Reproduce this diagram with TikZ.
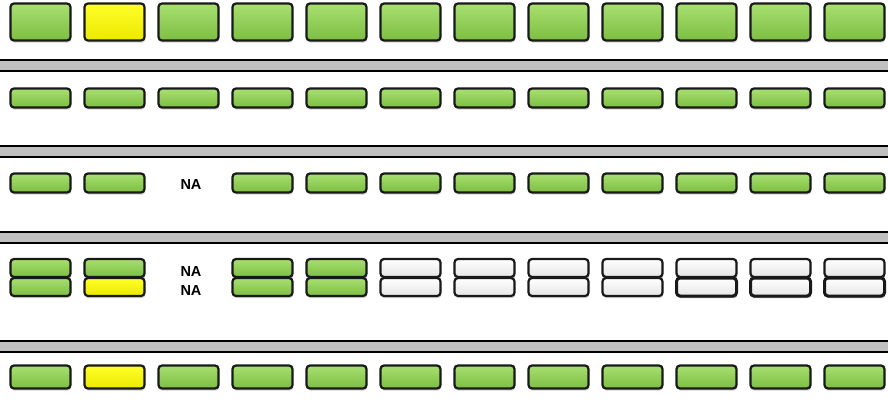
\documentclass[tikz,border=0pt]{standalone}
\usepackage{fontspec}
\setsansfont{Liberation Sans}
\usetikzlibrary{shadows}
\definecolor{greenhi}{RGB}{168,224,112}
\definecolor{greenlo}{RGB}{124,190,66}
\definecolor{yellowhi}{RGB}{255,255,40}
\definecolor{yellowlo}{RGB}{236,232,0}
\definecolor{sepgray}{RGB}{192,192,192}

\begin{document}
\begin{tikzpicture}[x=1pt, y=-1pt,
    cell/.style={draw=black!90, line width=2.2pt, rounded corners=3.5pt, inner sep=0pt,
        minimum width=60pt, top color=greenhi, bottom color=greenlo,
        drop shadow={shadow xshift=0.8pt, shadow yshift=-2.2pt, opacity=0.35}},
    hit/.style={top color=yellowhi, bottom color=yellowlo},
    blank/.style={top color=white, bottom color=black!10},
    na/.style={font=\sffamily\bfseries\fontsize{14.5}{14.5}\selectfont, inner sep=0pt}]
    \useasboundingbox (0,0) rectangle (888,409);
    \def\yA{22} \def\yB{98} \def\yC{183} \def\yDt{268} \def\yDb{287} \def\yE{377}
    % Separators
    \foreach \ya/\yb in {60/71, 146/157, 232/243, 341/352} {
        \fill[sepgray] (0,\ya) rectangle (888,\yb);
        \draw[line width=2pt] (0,\ya) -- (888,\ya) (0,\yb) -- (888,\yb);
    }
    % Row 1
    \foreach \i in {1,3,4,...,12}
        \node[cell, minimum height=37pt] (a\i) at ({40.5+74*(\i-1)},\yA) {};
    \node[cell, hit, minimum height=37pt] (a2) at (114.5,\yA) {};
    % Row 2
    \foreach \i in {1,...,12}
        \node[cell, minimum height=19pt] (b\i) at ({40.5+74*(\i-1)},\yB) {};
    % Row 3
    \foreach \i in {1,2,4,5,...,12}
        \node[cell, minimum height=19pt] (c\i) at ({40.5+74*(\i-1)},\yC) {};
    \node[na] (c3) at (191,\yC+2) {NA};
    % Row 4, two layers
    \foreach \i in {1,2,4,5} {
        \node[cell, minimum height=18pt] (dt\i) at ({40.5+74*(\i-1)},\yDt) {};
    }
    \foreach \i in {1,4,5}
        \node[cell, minimum height=18pt] (db\i) at ({40.5+74*(\i-1)},\yDb) {};
    \node[cell, hit, minimum height=18pt] (db2) at (114.5,\yDb) {};
    \foreach \i in {6,...,12} {
        \node[cell, blank, minimum height=18pt] (dt\i) at ({40.5+74*(\i-1)},\yDt) {};
        \node[cell, blank, minimum height=18pt] (db\i) at ({40.5+74*(\i-1)},\yDb) {};
    }
    % thicker rims on the last three
    \foreach \i in {10,11,12}
        \node[cell, blank, line width=3pt, minimum height=18pt] (db\i) at ({40.5+74*(\i-1)},\yDb) {};
    \node[na] (dt3) at (191,\yDt+4) {NA};
    \node[na] (db3) at (191,\yDb+4) {NA};
    % Row 5
    \foreach \i in {1,3,4,...,12}
        \node[cell, minimum height=23pt] (e\i) at ({40.5+74*(\i-1)},\yE) {};
    \node[cell, hit, minimum height=23pt] (e2) at (114.5,\yE) {};
\end{tikzpicture}
\end{document}
